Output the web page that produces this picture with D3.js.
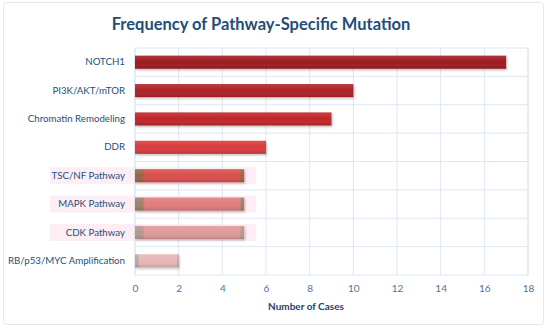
<!DOCTYPE html>
<html>
<head>
<meta charset="utf-8">
<script src="https://cdn.jsdelivr.net/npm/d3@7"></script>
<style>
  body { margin: 0; background: #fff; }
  svg { display: block; font-family: Lato, "Open Sans", sans-serif; }
</style>
</head>
<body>
<svg id="chart"></svg>
<script>
const categories = ["NOTCH1", "PI3K/AKT/mTOR", "Chromatin Remodeling", "DDR",
  "TSC/NF Pathway", "MAPK Pathway", "CDK Pathway", "RB/p53/MYC Amplification"];
const cases = [17, 10, 9, 6, 5, 5, 5, 2];
const xTicks = [0, 2, 4, 6, 8, 10, 12, 14, 16, 18];
// bar body colour and end-cap colour for each category
const barColors = ["#9e1d21", "#ad2226", "#bf272b", "#d93a3a", "#d9504d", "#e17c7c", "#dd9a9a", "#e8b5b7"];
const capColors = [null, null, null, null, "#9a6645", "#9f8068", "#b9978c", "#bba7a2"];
const glowCats = ["TSC/NF Pathway", "MAPK Pathway", "CDK Pathway"];

const W = 550, H = 329;
const margin = {top: 48, right: 22, bottom: 54, left: 135};
const svg = d3.select("#chart").attr("width", W).attr("height", H);

// outer frame
svg.append("rect")
  .attr("x", 3.5).attr("y", 2.5).attr("width", 540).attr("height", 322)
  .attr("rx", 3).attr("fill", "#fff").attr("stroke", "#e4e8ee");

const w = W - margin.left - margin.right;
const h = H - margin.top - margin.bottom;

const x = d3.scaleLinear().domain([0, 18]).range([0, w]);
const y = d3.scaleBand().domain(categories).range([0, h]).paddingInner(0.54).paddingOuter(0.27);
const yGrid = d3.scaleBand().domain(categories).range([0, h]);

const defs = svg.append("defs");
categories.forEach((c, i) => {
  const g = defs.append("linearGradient").attr("id", "g" + i)
    .attr("x1", 0).attr("x2", 1).attr("y1", 0).attr("y2", 0);
  const cap = capColors[i] || barColors[i];
  g.append("stop").attr("offset", "0%").attr("stop-color", cap);
  g.append("stop").attr("offset", capColors[i] ? "7%" : "0%").attr("stop-color", cap);
  g.append("stop").attr("offset", capColors[i] ? "9%" : "0%").attr("stop-color", barColors[i]);
  g.append("stop").attr("offset", capColors[i] ? "96%" : "100%").attr("stop-color", barColors[i]);
  g.append("stop").attr("offset", capColors[i] ? "97.5%" : "100%").attr("stop-color", cap);
  g.append("stop").attr("offset", "100%").attr("stop-color", cap);
});
const shade = defs.append("linearGradient").attr("id", "shade")
  .attr("x1", 0).attr("x2", 0).attr("y1", 0).attr("y2", 1);
shade.append("stop").attr("offset", "0%").attr("stop-color", "#fff").attr("stop-opacity", 0.12);
shade.append("stop").attr("offset", "50%").attr("stop-color", "#fff").attr("stop-opacity", 0);
shade.append("stop").attr("offset", "100%").attr("stop-color", "#000").attr("stop-opacity", 0.15);
const blur = defs.append("filter").attr("id", "shadow").attr("x", "-5%").attr("y", "-30%").attr("width", "110%").attr("height", "170%");
blur.append("feDropShadow").attr("dx", 1).attr("dy", 1.5).attr("stdDeviation", 1)
  .attr("flood-color", "#000").attr("flood-opacity", 0.25);

// title
svg.append("text")
  .attr("x", 261).attr("y", 30).attr("text-anchor", "middle")
  .attr("font-size", 16.5).attr("font-weight", "bold").attr("fill", "#1f4e79")
  .text("Frequency of Pathway-Specific Mutation");

const g = svg.append("g").attr("transform", `translate(${margin.left},${margin.top})`);

// faint pink glow behind some rows
g.selectAll(".glow")
  .data(glowCats)
  .join("rect")
    .attr("x", -85).attr("y", d => y(d) - 2)
    .attr("width", 85 + x(5.55)).attr("height", y.bandwidth() + 4)
    .attr("fill", "#fdedf5");

// grid
g.selectAll(".vgrid")
  .data(xTicks)
  .join("line")
    .attr("x1", d => x(d)).attr("x2", d => x(d))
    .attr("y1", 0).attr("y2", h)
    .attr("stroke", "#dde6f3").attr("stroke-width", 1);
g.selectAll(".hgrid")
  .data(categories.slice(1))
  .join("line")
    .attr("x1", 0).attr("x2", w)
    .attr("y1", d => yGrid(d)).attr("y2", d => yGrid(d))
    .attr("stroke", "#dde6f3").attr("stroke-width", 1);
g.append("rect").attr("width", w).attr("height", h)
  .attr("fill", "none").attr("stroke", "#dde6f3");

// bars
g.selectAll(".bar")
  .data(categories)
  .join("rect")
    .attr("x", 0)
    .attr("y", d => y(d))
    .attr("width", (d, i) => x(cases[i]))
    .attr("height", y.bandwidth())
    .attr("fill", (d, i) => `url(#g${i})`)
    .attr("filter", "url(#shadow)");
g.selectAll(".barshade")
  .data(categories)
  .join("rect")
    .attr("x", 0)
    .attr("y", d => y(d))
    .attr("width", (d, i) => x(cases[i]))
    .attr("height", y.bandwidth())
    .attr("fill", "url(#shade)");

// axes
const yAxis = g.append("g").call(d3.axisLeft(yGrid).tickSize(0).tickPadding(10));
yAxis.select(".domain").remove();
yAxis.selectAll("text").attr("font-size", 9.7).attr("fill", "#1f4e79")
  .attr("font-family", "Lato, 'Open Sans', sans-serif");

const xAxis = g.append("g").attr("transform", `translate(0,${h})`)
  .call(d3.axisBottom(x).tickValues(xTicks).tickSize(0).tickPadding(10));
xAxis.select(".domain").remove();
xAxis.selectAll("text").attr("font-size", 10).attr("fill", "#56709a")
  .attr("font-family", "Lato, 'Open Sans', sans-serif");

svg.append("text")
  .attr("x", 306).attr("y", 310).attr("text-anchor", "middle")
  .attr("font-size", 10).attr("font-weight", "bold").attr("fill", "#1f3e6e")
  .text("Number of Cases");
</script>
</body>
</html>
